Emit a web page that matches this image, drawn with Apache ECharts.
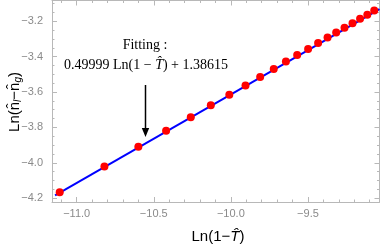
<!DOCTYPE html>
<html><head><meta charset="utf-8">
<script src="https://cdn.jsdelivr.net/npm/echarts@6/dist/echarts.min.js"></script>
<style>html,body{margin:0;padding:0;background:#fff}#c{width:382px;height:247px}</style>
</head><body><div id="c"></div>
<script>
// Data
const lnOneMinusT = [-11.11, -10.82, -10.60, -10.42, -10.26, -10.13, -10.01, -9.905, -9.81, -9.722, -9.643, -9.570, -9.499, -9.434, -9.373, -9.317, -9.263, -9.211, -9.162, -9.115, -9.070];
const lnDiff = [-4.166, -4.020, -3.909, -3.819, -3.742, -3.675, -3.615, -3.563, -3.515, -3.470, -3.428, -3.391, -3.357, -3.323, -3.292, -3.264, -3.237, -3.211, -3.186, -3.163, -3.140];
const fitX = [-11.14, -9.036];
const fitY = [-4.184, -3.132];
const xMajorTicks = [-11.0, -10.5, -10.0, -9.5];
const xMinorTicks = [-11.1, -10.9, -10.8, -10.7, -10.6, -10.4, -10.3, -10.2, -10.1, -9.9, -9.8, -9.7, -9.6, -9.4, -9.3, -9.2, -9.1];
const yMajorTicks = [-4.2, -4.0, -3.8, -3.6, -3.4, -3.2];
const yMinorTicks = [-4.15, -4.1, -4.05, -3.95, -3.9, -3.85, -3.75, -3.7, -3.65, -3.55, -3.5, -3.45, -3.35, -3.3, -3.25, -3.15, -3.1];
const xRange = [-11.16, -9.036];
const yRange = [-4.221, -3.083];

const frameColor = '#b8b8b8';
const labelColor = '#8a8a8a';
const fmt = v => (v < 0 ? '\u2212' : '') + Math.abs(v).toFixed(1);

function mkAxis(pos, ticks, len, withLine, withLabel, range) {
  return {
    type: 'value', position: pos, min: range[0], max: range[1],
    axisLine: { show: withLine, onZero: false, lineStyle: { color: frameColor, width: 1 } },
    axisTick: { show: true, inside: true, length: len, customValues: ticks, lineStyle: { color: frameColor, width: 1 } },
    axisLabel: withLabel ? { show: true, customValues: ticks, formatter: fmt, color: labelColor,
      fontFamily: 'Liberation Sans, Arial, sans-serif', fontSize: 11, margin: (pos === 'left' ? 9 : 6) } : { show: false },
    splitLine: { show: false }
  };
}

const chart = echarts.init(document.getElementById('c'), null, { renderer: 'canvas' });
chart.setOption({
  animation: false,
  grid: { left: 52, right: 2.5, top: 0.5, bottom: 45, containLabel: false },
  xAxis: [
    mkAxis('bottom', xMajorTicks, 5, true, true, xRange),
    mkAxis('bottom', xMinorTicks, 2.5, false, false, xRange),
    mkAxis('top', xMajorTicks, 5, true, false, xRange),
    mkAxis('top', xMinorTicks, 2.5, false, false, xRange)
  ],
  yAxis: [
    mkAxis('left', yMajorTicks, 5, true, true, yRange),
    mkAxis('left', yMinorTicks, 2.5, false, false, yRange),
    mkAxis('right', yMajorTicks, 5, true, false, yRange),
    mkAxis('right', yMinorTicks, 2.5, false, false, yRange)
  ],
  series: [
    {
      type: 'line', xAxisIndex: 0, yAxisIndex: 0, symbol: 'none',
      data: fitX.map((x, i) => [x, fitY[i]]),
      lineStyle: { color: '#0000ff', width: 2 }, z: 2
    },
    {
      type: 'scatter', xAxisIndex: 0, yAxisIndex: 0, symbolSize: 8,
      data: lnOneMinusT.map((x, i) => [x, lnDiff[i]]),
      itemStyle: { color: '#ff0000', opacity: 1 }, z: 3
    }
  ],
  graphic: [
    {
      type: 'text', x: 145, y: 45,
      style: { text: 'Fitting :', font: '14px "Liberation Serif", serif', fill: '#000', align: 'center', verticalAlign: 'middle' }
    },
    {
      type: 'text', x: 146, y: 65,
      style: {
        text: '{a|0.49999 Ln(1 \u2212 }{t|T\u0302}{a|) + 1.38615}',
        align: 'center', verticalAlign: 'middle',
        rich: {
          a: { font: '14px "Liberation Serif", serif', fill: '#000' },
          t: { font: 'italic 14px "Liberation Serif", serif', fill: '#000' }
        }
      }
    },
    {
      type: 'line', shape: { x1: 145.5, y1: 85, x2: 145.5, y2: 130 },
      style: { stroke: '#000', lineWidth: 1.5 }
    },
    {
      type: 'polygon', shape: { points: [[141.8, 128], [149.2, 128], [145.5, 137]] },
      style: { fill: '#000' }
    },
    {
      type: 'text', x: 15, y: 102, rotation: Math.PI / 2,
      style: {
        text: '{a|Ln(n\u0302}{s|l}{a|\u2212n\u0302}{s|g}{a|)}',
        align: 'center', verticalAlign: 'middle',
        rich: {
          a: { font: '15px "Liberation Sans", Arial, sans-serif', fill: '#000' },
          s: { font: 'italic 10px "Liberation Sans", Arial, sans-serif', fill: '#000', padding: [7, 0, 0, 0] }
        }
      }
    },
    {
      type: 'text', x: 218, y: 237,
      style: {
        text: '{a|Ln(1\u2212}{t|T\u0302}{a|)}',
        align: 'center', verticalAlign: 'middle',
        rich: {
          a: { font: '15px "Liberation Sans", Arial, sans-serif', fill: '#000' },
          t: { font: 'italic 15px "Liberation Sans", Arial, sans-serif', fill: '#000' }
        }
      }
    }
  ]
});
</script>
</body></html>
